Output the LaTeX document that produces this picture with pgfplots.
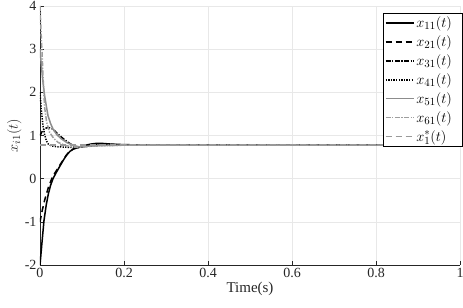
\documentclass[border=0pt]{standalone}
\usepackage{pgfplots}
\pgfplotsset{compat=1.18}
\usepackage{fontspec}
\setmainfont{Liberation Serif}
\definecolor{axgray}{gray}{0.15}
\definecolor{gA}{gray}{0.55}
\definecolor{gB}{gray}{0.62}
\definecolor{gC}{gray}{0.6}
\newcommand{\legent}[1]{\makebox[42pt][l]{#1}}
\begin{document}
\begin{tikzpicture}
\begin{axis}[
  scale only axis, width=420pt, height=259pt,
  xmin=0, xmax=1, ymin=-2, ymax=4,
  axis x line*=bottom, axis y line*=left,
  axis line style={axgray, line width=0.5pt},
  tick align=inside, tick style={axgray, line width=0.5pt}, major tick length=4pt,
  xtick={0,0.2,0.4,0.6,0.8,1}, xticklabels={0,0.2,0.4,0.6,0.8,1},
  ytick={-2,-1,0,1,2,3,4}, yticklabels={-2,-1,0,1,2,3,4},
  ticklabel style={font=\fontsize{14}{16}\selectfont, text=axgray},
  grid=major, grid style={gray!18, line width=0.5pt},
  xlabel={Time(s)}, ylabel={$x_{i1}(t)$},
  label style={font=\fontsize{15}{17}\selectfont, text=axgray},
  xlabel style={yshift=3pt}, ylabel style={yshift=-3.5pt},
  legend style={at={(rel axis cs:1.005,0.972)}, anchor=north east, draw=black, line width=0.5pt,
    font=\fontsize{15}{17}\selectfont, inner sep=1.5pt, row sep=2.6pt, cells={anchor=west}},
  legend image code/.code={\draw[#1] (0pt,0pt) -- (28pt,0pt);},
  every axis plot/.append style={line width=1.5pt},
]
\addplot[black] coordinates {(0,-2) (0.005,-1.45) (0.0095,-0.97) (0.015,-0.6) (0.02,-0.35) (0.025,-0.16) (0.031,0) (0.038,0.13) (0.045,0.25) (0.055,0.42) (0.063,0.54) (0.071,0.63) (0.08,0.69) (0.094,0.73) (0.105,0.765) (0.12,0.8) (0.135,0.818) (0.15,0.815) (0.17,0.8) (0.2,0.788) (0.25,0.779) (0.3,0.776) (1,0.775)};
\addlegendentry{\legent{$x_{11}(t)$}}
\addplot[black, dash pattern=on 6pt off 4pt] coordinates {(0,-1) (0.005,-0.75) (0.011,-0.5) (0.02,-0.2) (0.03,0.05) (0.038,0.17) (0.045,0.28) (0.055,0.43) (0.063,0.55) (0.071,0.635) (0.08,0.69) (0.094,0.73) (0.105,0.755) (0.12,0.782) (0.14,0.798) (0.16,0.795) (0.2,0.783) (0.3,0.776) (1,0.775)};
\addlegendentry{\legent{$x_{21}(t)$}}
\addplot[black, dash pattern=on 5pt off 1.5pt on 1.2pt off 1.5pt] coordinates {(0,1) (0.005,1.09) (0.01,1.15) (0.019,1.19) (0.028,1.16) (0.036,1.1) (0.043,1.03) (0.055,0.93) (0.067,0.84) (0.08,0.76) (0.09,0.725) (0.1,0.735) (0.12,0.765) (0.15,0.78) (0.2,0.777) (1,0.775)};
\addlegendentry{\legent{$x_{31}(t)$}}
\addplot[black, dash pattern=on 1.3pt off 1.3pt] coordinates {(0,2) (0.003,1.61) (0.007,1.23) (0.011,1.02) (0.015,0.88) (0.02,0.8) (0.027,0.76) (0.04,0.74) (0.06,0.73) (0.08,0.72) (0.09,0.72) (0.1,0.735) (0.12,0.76) (0.15,0.773) (0.2,0.775) (1,0.775)};
\addlegendentry{\legent{$x_{41}(t)$}}
\addplot[gA] coordinates {(0,3) (0.003,2.65) (0.006,2.33) (0.011,1.92) (0.019,1.46) (0.025,1.28) (0.031,1.15) (0.04,1.02) (0.051,0.92) (0.065,0.83) (0.083,0.76) (0.095,0.735) (0.11,0.748) (0.13,0.762) (0.16,0.772) (0.2,0.775) (1,0.775)};
\addlegendentry{\legent{$x_{51}(t)$}}
\addplot[gB, dash pattern=on 5pt off 1.5pt on 1.2pt off 1.5pt] coordinates {(0,4) (0.0025,3.4) (0.005,2.9) (0.008,2.2) (0.011,1.65) (0.016,1.3) (0.023,1.07) (0.033,0.93) (0.043,0.84) (0.06,0.77) (0.075,0.74) (0.09,0.722) (0.11,0.742) (0.14,0.765) (0.2,0.775) (1,0.775)};
\addlegendentry{\legent{$x_{61}(t)$}}
\addplot[gC, dash pattern=on 6pt off 4pt] coordinates {(0,0.775) (1,0.775)};
\addlegendentry{\legent{$x_{1}^{*}(t)$}}
\end{axis}
\pgfresetboundingbox
\path ([xshift=-40pt,yshift=-43pt]current axis.south west) rectangle ([xshift=3pt,yshift=6pt]current axis.north east);
\end{tikzpicture}
\end{document}
